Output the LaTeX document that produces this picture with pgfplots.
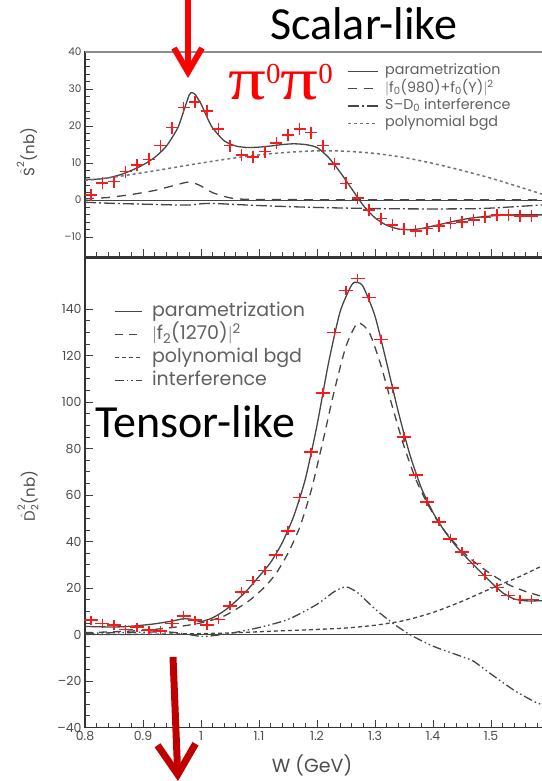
\documentclass[border=0pt]{standalone}
\usepackage{pgfplots}
\pgfplotsset{compat=1.18}
\usepackage{fontspec}
\setmainfont{Poppins}
\newfontfamily\calfont{Carlito}
\newfontfamily\serfont{Liberation Serif}
\usetikzlibrary{arrows.meta}
\definecolor{curve}{RGB}{70,70,70}
\definecolor{arrowred}{RGB}{255,0,0}
\definecolor{darkred}{RGB}{192,0,0}
\definecolor{crossred}{RGB}{240,30,30}

\pgfplotsset{
  myaxis/.style={
    scale only axis, anchor=south west,
    xmin=0.8, xmax=1.6,
    xtick={0.8,0.9,1.0,1.1,1.2,1.3,1.4,1.5,1.6},
    minor x tick num=4,
    tick align=inside, tick pos=left,
    major tick length=8pt, minor tick length=4.5pt,
    every tick/.style={black!75, line width=0.9pt},
    every minor tick/.style={black!75, line width=0.8pt},
    axis line style={black!80, line width=1.1pt},
    legend cell align=left,
    clip=true,
  },
  curv/.style={curve, line width=1.3pt, smooth, tension=0.4, no marks},
}

\begin{document}
\begin{tikzpicture}
\useasboundingbox (0pt,0pt) rectangle (541pt,-781pt);

% ---------------- top panel ----------------
\begin{axis}[myaxis,
  at={(85pt,-256.7pt)}, width=464pt, height=204.7pt,
  ymin=-15.3, ymax=40,
  ytick={-10,0,10,20,30,40}, minor y tick num=4,
  yticklabels={--10,0,10,20,30,40},
  xticklabels={},
  yticklabel style={font=\fontsize{10.5}{10.5}\selectfont, text=black!70},
  legend style={at={(axis description cs:0.5647,0.948)}, anchor=north west,
    draw=none, fill=none, inner sep=0pt, row sep=0pt,
    font=\fontsize{14.3}{14.3}\selectfont, text=black!62,
    nodes={inner xsep=6.5pt, inner ysep=1.1pt, text height=11pt, text depth=4.1pt}},
  legend image code/.code={\draw[#1] (0pt,0pt) -- (30pt,0pt);},
]
\draw[black!45, line width=1.3pt] (rel axis cs:0,1) -- (rel axis cs:1,1);
\addplot[curve, line width=1.1pt, forget plot] coordinates {(0.8,0) (1.6,0)};

\addplot[curv] coordinates {
(0.80,5.6) (0.82,5.6) (0.84,6.0) (0.86,6.8) (0.88,8.0) (0.90,9.5) (0.92,11.5)
(0.94,14.5) (0.96,19.5) (0.97,24) (0.98,28.5) (0.985,29) (0.99,28.5) (1.00,26)
(1.01,22.5) (1.02,19.5) (1.04,16.0) (1.06,14.6) (1.08,14.2) (1.10,14.3) (1.12,14.6)
(1.14,15.0) (1.16,15.2) (1.18,15.0) (1.20,14.2) (1.22,11.5) (1.24,7.5) (1.26,3.0)
(1.28,-1.5) (1.30,-4.8) (1.32,-6.8) (1.34,-7.8) (1.36,-8.0) (1.38,-7.7) (1.40,-7.0)
(1.42,-6.3) (1.44,-5.6) (1.46,-5.0) (1.48,-4.6) (1.50,-4.3) (1.52,-4.1) (1.54,-4.0)
(1.56,-4.0) (1.58,-4.0) (1.60,-4.0)};
\addlegendentry{parametrization}

\addplot[curv, dash pattern=on 9pt off 7pt] coordinates {
(0.80,0.3) (0.84,0.7) (0.88,1.5) (0.92,2.6) (0.95,3.8) (0.98,4.9) (1.00,3.8)
(1.02,2.0) (1.05,0.6) (1.08,0.2) (1.20,0.1) (1.60,0.05)};
\addlegendentry{$|$f\textsubscript{0}(980)+f\textsubscript{0}(Y)$|$\textsuperscript{2}}

\addplot[curv, dash pattern=on 11pt off 3pt on 2pt off 3pt] coordinates {
(0.80,-0.6) (0.85,-0.9) (0.90,-1.1) (0.95,-1.3) (0.98,-1.35) (1.00,-1.0) (1.02,-0.9)
(1.06,-1.2) (1.12,-1.6) (1.20,-2.0) (1.30,-2.3) (1.40,-2.4) (1.48,-2.3) (1.53,-1.9)
(1.58,-1.4) (1.60,-1.2)};
\addlegendentry{S--D\textsubscript{0} interference}

\addplot[curv, black!55, line width=1.5pt, dash pattern=on 3pt off 3pt] coordinates {
(0.80,5.3) (0.85,6.2) (0.90,7.4) (0.95,8.7) (1.00,10.0) (1.05,11.2) (1.10,12.2)
(1.15,12.9) (1.20,13.3) (1.25,13.2) (1.30,12.6) (1.35,11.5) (1.40,9.9) (1.45,8.0)
(1.50,5.9) (1.55,3.5) (1.60,1.0)};
\addlegendentry{polynomial bgd}

\addplot[only marks, mark=+, mark size=6pt, crossred, mark options={line width=1.5pt}, forget plot] coordinates {
(0.81,1.4) (0.83,4.6) (0.85,5.0) (0.87,7.7) (0.89,9.5) (0.91,11.0) (0.93,14.7)
(0.95,19.6) (0.97,25.0) (0.99,26.5) (1.01,24.0) (1.03,19.2) (1.05,14.7) (1.07,12.2)
(1.09,11.7) (1.11,13.1) (1.13,15.4) (1.15,17.6) (1.17,19.2) (1.19,18.2) (1.21,14.7)
(1.23,9.8) (1.25,4.5) (1.27,0.5) (1.29,-2.7) (1.31,-5.0) (1.33,-6.8) (1.35,-7.9)
(1.37,-8.3) (1.39,-7.7) (1.41,-7.0) (1.43,-6.3) (1.45,-5.9) (1.47,-5.4) (1.49,-4.7)
(1.51,-4.0) (1.53,-4.0) (1.55,-4.3) (1.57,-4.3)};
\end{axis}

% ---------------- bottom panel ----------------
\begin{axis}[myaxis,
  at={(85pt,-727.5pt)}, width=464pt, height=469.5pt,
  ymin=-40, ymax=162,
  ytick={-40,-20,0,20,40,60,80,100,120,140}, minor y tick num=3,
  yticklabels={--40,--20,0,20,40,60,80,100,120,140},
  xticklabels={0.8,0.9,1,1.1,1.2,1.3,1.4,1.5,{}},
  yticklabel style={font=\fontsize{12.5}{12.5}\selectfont, text=black!70},
  xticklabel style={font=\fontsize{12.5}{12.5}\selectfont, text=black!70},
  legend style={at={(axis description cs:0.0625,0.9105)}, anchor=north west,
    draw=none, fill=none, inner sep=0pt, row sep=0pt,
    font=\fontsize{19}{19}\selectfont, text=black!62,
    nodes={inner xsep=9.5pt, inner ysep=1.25pt, text height=15pt, text depth=5.5pt}},
  legend image code/.code={\draw[#1] (0pt,0pt) -- (27pt,0pt);},
]
\addplot[curve, line width=1.1pt, forget plot] coordinates {(0.8,0) (1.6,0)};

\addplot[curv] coordinates {
(0.80,3.5) (0.83,3.3) (0.86,3.3) (0.89,3.8) (0.92,4.6) (0.95,5.8) (0.97,6.8)
(0.985,6.5) (1.00,5.6) (1.02,7.2) (1.04,10.2) (1.06,14.3) (1.08,19.2) (1.10,25)
(1.12,31) (1.14,39.5) (1.16,51) (1.18,67) (1.20,90) (1.22,117) (1.24,139)
(1.26,150.5) (1.27,151.5) (1.28,149.5) (1.30,137) (1.32,117) (1.34,96) (1.36,77.5)
(1.38,63) (1.40,52.5) (1.42,44.5) (1.44,38) (1.46,32.5) (1.48,27.5) (1.50,22.5)
(1.52,18) (1.54,15.3) (1.56,14.5) (1.58,14.5) (1.60,14.7)};
\addlegendentry{parametrization}

\addplot[curv, dash pattern=on 8pt off 6pt] coordinates {
(0.80,0.8) (0.85,1.2) (0.90,1.8) (0.95,3.0) (1.00,5.0) (1.04,8) (1.08,14)
(1.11,20.5) (1.13,26.5) (1.15,35) (1.17,46) (1.19,62) (1.21,83) (1.23,105)
(1.25,124) (1.27,134) (1.29,130) (1.31,116) (1.33,98) (1.35,81) (1.37,67)
(1.39,56.5) (1.41,48) (1.43,41.5) (1.45,36) (1.47,31.5) (1.50,26) (1.53,21.5)
(1.56,18.5) (1.60,15.5)};
\addlegendentry{$|$f\textsubscript{2}(1270)$|$\textsuperscript{2}}

\addplot[curv, dash pattern=on 4pt off 3pt] coordinates {
(0.80,0) (0.90,0.1) (1.00,0.4) (1.05,0.7) (1.10,1.2) (1.15,1.7) (1.20,2.2)
(1.25,2.8) (1.30,4.0) (1.35,6.0) (1.40,9.5) (1.45,14.3) (1.50,19.8) (1.55,25)
(1.60,31)};
\addlegendentry{polynomial bgd}

\addplot[curv, dash pattern=on 9pt off 3pt on 1.5pt off 3pt on 1.5pt off 3pt] coordinates {
(0.80,0.5) (0.90,1.0) (0.95,1.0) (1.00,-0.8) (1.02,-0.5) (1.05,0.5) (1.10,3)
(1.15,6.5) (1.20,13) (1.23,18.5) (1.25,20.5) (1.27,18) (1.30,11) (1.33,5)
(1.36,0) (1.40,-5) (1.45,-9.5) (1.47,-11.5) (1.50,-17) (1.54,-24) (1.58,-29.5)
(1.60,-30.5)};
\addlegendentry{interference}

\addplot[only marks, mark=+, mark size=7pt, crossred, mark options={line width=1.5pt, yscale=0.65}, forget plot] coordinates {
(0.81,6.2) (0.83,4.8) (0.85,4.1) (0.87,2.2) (0.89,3.2) (0.91,1.9) (0.93,1.6)
(0.95,4.8) (0.97,8.0) (0.99,6.2) (1.01,4.1) (1.03,6.5) (1.05,12.3) (1.07,18.4)
(1.09,23.2) (1.11,27.5) (1.13,34.3) (1.15,44.6) (1.17,59) (1.19,78.5) (1.21,104)
(1.23,130) (1.25,148) (1.27,153.2) (1.29,145) (1.31,127) (1.33,106) (1.35,85)
(1.37,68.7) (1.39,57.1) (1.41,48.5) (1.43,41.2) (1.45,35.6) (1.47,30.5) (1.49,25.3)
(1.51,20.2) (1.53,16.7) (1.55,15.0) (1.57,15.0)};
\end{axis}

% ---------------- labels and annotations ----------------
\node[rotate=90, text=black!70, font=\fontsize{15}{15}\selectfont] at (27pt,-152pt)
  {$\hat{\mbox{S}}^{\mbox{\fontsize{10}{10}\selectfont 2}}$(nb)};
\node[rotate=90, text=black!70, font=\fontsize{15}{15}\selectfont] at (28pt,-496pt)
  {$\hat{\mbox{D}}_{\mbox{\fontsize{10}{10}\selectfont 2}}^{\mbox{\fontsize{10}{10}\selectfont 2}}$(nb)};
\node[text=black!70, font=\fontsize{19}{19}\selectfont] at (312pt,-765pt) {W (GeV)};

\node[anchor=base west, inner sep=0pt, font=\calfont\fontsize{46}{46}\selectfont] at (270pt,-40pt) {Scalar-like};
\node[anchor=base west, inner sep=0pt, font=\calfont\fontsize{46}{46}\selectfont] at (95pt,-437pt) {Tensor-like};
\node[anchor=base west, inner sep=0pt, text=arrowred, font=\serfont\fontsize{60}{60}\selectfont] at (228pt,-100pt)
  {\scalebox{1.25}[1]{π}\raisebox{17pt}{\fontsize{29}{29}\selectfont 0}\scalebox{1.25}[1]{π}\raisebox{17pt}{\fontsize{29}{29}\selectfont 0}};

\draw[arrowred, line width=6pt, -{Straight Barb[length=24pt, width=28pt]}] (188pt,0pt) -- (188pt,-78pt);
\draw[darkred, line width=7pt, -{Straight Barb[length=30pt, width=38pt]}] (173pt,-657pt) -- (178pt,-781pt);
\end{tikzpicture}
\end{document}
